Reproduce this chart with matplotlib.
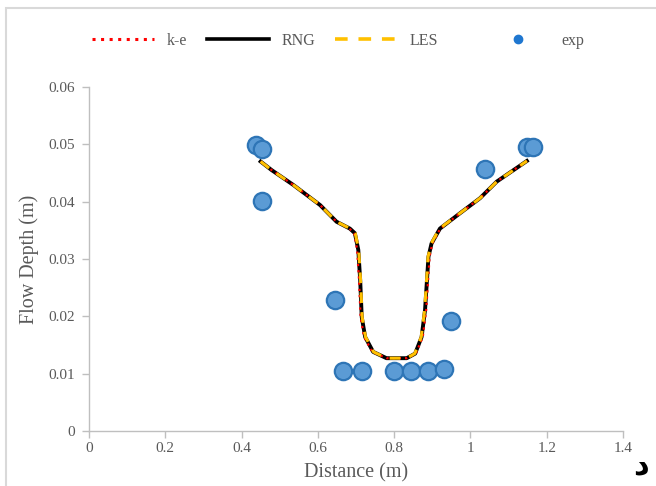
import matplotlib
matplotlib.use("Agg")
import matplotlib.pyplot as plt
from matplotlib.lines import Line2D
from matplotlib.patches import Rectangle

plt.rcParams['font.family'] = ['Liberation Serif', 'DejaVu Sans']

# simulated profiles (distance m, depth m)
rng_x = [0.450, 0.479, 0.536, 0.606, 0.649, 0.684, 0.697, 0.706, 0.711, 0.715, 0.724, 0.745,
         0.780, 0.833, 0.855, 0.872, 0.881, 0.890, 0.898, 0.920, 0.973, 1.025, 1.069, 1.148]
rng_y = [0.0470, 0.0455, 0.0429, 0.0394, 0.0365, 0.0353, 0.0345, 0.0316, 0.0263, 0.0199, 0.0164, 0.0138,
         0.0127, 0.0127, 0.0135, 0.0164, 0.0211, 0.0304, 0.0327, 0.0353, 0.0380, 0.0406, 0.0435, 0.0471]
ke_x = [0.450, 0.479, 0.536, 0.606, 0.649, 0.683, 0.695, 0.703, 0.708, 0.712, 0.721, 0.743,
        0.780, 0.833, 0.857, 0.875, 0.884, 0.893, 0.900, 0.921, 0.973, 1.025, 1.069, 1.148]
ke_y = rng_y
les_x = [0.450, 0.479, 0.536, 0.606, 0.649, 0.685, 0.698, 0.707, 0.712, 0.716, 0.725, 0.746,
         0.780, 0.833, 0.854, 0.871, 0.880, 0.889, 0.897, 0.919, 0.973, 1.025, 1.069, 1.148]
les_y = rng_y

# measured
exp_x = [0.438, 0.454, 0.454, 0.645, 0.666, 0.716, 0.800, 0.844, 0.889, 0.931, 0.949, 1.038, 1.148, 1.164]
exp_y = [0.0499, 0.0492, 0.0401, 0.0229, 0.0105, 0.0105, 0.0105, 0.0105, 0.0105, 0.0108, 0.0192, 0.0457, 0.0495, 0.0495]

txt = '#595959'
axc = '#BFBFBF'

fig = plt.figure(figsize=(6.56, 4.86), dpi=100)
ax = fig.add_axes([89/656, 1 - 431/486, (623 - 89)/656, (431 - 87)/486])

ax.plot(rng_x, rng_y, color='black', lw=2.8, zorder=2)
ax.plot(ke_x, ke_y, color='red', lw=1.6, ls=(0, (1, 1.8)), zorder=3)
ax.plot(les_x, les_y, color='#FFC000', lw=2.2, ls=(0, (3.5, 3)), zorder=4)
ax.plot(exp_x, exp_y, 'o', ms=12.5, mfc='#5B9BD5', mec='#2E75B6', mew=1.6, ls='none', zorder=5)

ax.set_xlim(0, 1.4)
ax.set_ylim(0, 0.06)
ax.set_xticks([0, 0.2, 0.4, 0.6, 0.8, 1, 1.2, 1.4])
ax.set_xticklabels(['0', '0.2', '0.4', '0.6', '0.8', '1', '1.2', '1.4'])
ax.set_yticks([0, 0.01, 0.02, 0.03, 0.04, 0.05, 0.06])
ax.set_yticklabels(['0', '0.01', '0.02', '0.03', '0.04', '0.05', '0.06'])
for s in ['top', 'right']:
    ax.spines[s].set_visible(False)
for s in ['left', 'bottom']:
    ax.spines[s].set_color(axc)
    ax.spines[s].set_linewidth(1.0)
ax.tick_params(axis='both', colors=axc, labelcolor=txt, labelsize=11, length=5, width=1.0)
ax.tick_params(axis='x', pad=3)
ax.tick_params(axis='y', pad=5)
ax.set_xlabel('Distance (m)', color=txt, fontsize=14.5, labelpad=6)
ax.set_ylabel('Flow Depth (m)', color=txt, fontsize=14.5, labelpad=7)

# legend, one entry per slot
entries = [
    (Line2D([], [], color='red', lw=2.2, ls=(0, (1, 1.8))), 'k-e', 93),
    (Line2D([], [], color='black', lw=2.6), 'RNG', 208),
    (Line2D([], [], color='#FFC000', lw=2.6, ls=(0, (3.5, 3))), 'LES', 336),
    (Line2D([], [], marker='o', ms=6, mfc='#1F77D0', mec='#1F77D0', ls='none'), 'exp', 488),
]
for h, lab, px in entries:
    lg = fig.legend([h], [lab], loc='center left', bbox_to_anchor=(px/656 - 0.012, 1 - 41/486),
                    frameon=False, fontsize=11.5, handlelength=3.9, handletextpad=0.8,
                    borderaxespad=0)
    for t in lg.get_texts():
        t.set_color(txt)

fig.text(641/656, 1 - 474/486, 'د', family=['DejaVu Sans'], fontsize=22, fontweight='bold',
         ha='center', va='baseline', color='black')

fig.patches.append(Rectangle((6/656, -0.1), 1.2, 1 - 8/486 + 0.1, transform=fig.transFigure,
                             fill=False, ec='#D9D9D9', lw=1.5))

fig.savefig('out.png', dpi=100)
